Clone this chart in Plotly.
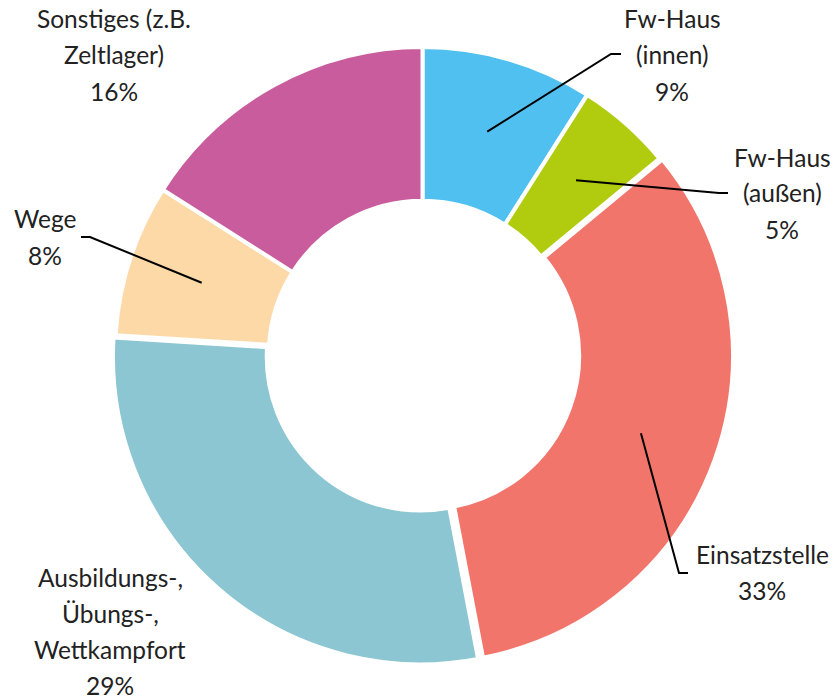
import math

import plotly.graph_objects as go

# data
labels = [
    "Fw-Haus (innen)",
    "Fw-Haus (außen)",
    "Einsatzstelle",
    "Ausbildungs-, Übungs-, Wettkampfort",
    "Wege",
    "Sonstiges (z.B. Zeltlager)",
]
values = [9, 5, 33, 29, 8, 16]
label_lines = [
    ["Fw-Haus", "(innen)"],
    ["Fw-Haus", "(außen)"],
    ["Einsatzstelle"],
    ["Ausbildungs-,", "Übungs-,", "Wettkampfort"],
    ["Wege"],
    ["Sonstiges (z.B.", "Zeltlager)"],
]
colors = ["#4fc0ef", "#b1cb0e", "#f2756c", "#8bc6d2", "#fcd9a7", "#c95c9c"]
pulls = [0, 0, 0.01, 0.01, 0, 0]

W, H = 833, 700
CX, CY, R = 422.5, 354.5, 307.5
LINE_H = 36

# label block centre (px) and leader elbow / end points (None = no leader)
label_pos = [(672, 55), (782, 193), (762, 572), (110, 631), (45, 237), (114, 55)]
leaders = [
    ((611, 54), (621, 54)),
    ((719, 193), (728, 193)),
    ((679, 573), (688, 573)),
    None,
    ((90, 237), (81, 237)),
    None,
]


def px(x):
    return x / W


def py(y):
    return 1 - y / H


max_pull = max(pulls)
half = R * (1 + max_pull)

fig = go.Figure(
    go.Pie(
        labels=labels,
        values=values,
        hole=0.5,
        sort=False,
        direction="clockwise",
        rotation=0,
        pull=pulls,
        marker=dict(colors=colors, line=dict(color="white", width=4)),
        textinfo="none",
        hoverinfo="label+percent",
        showlegend=False,
        domain=dict(
            x=[px(CX - half), px(CX + half)],
            y=[py(CY + half), py(CY - half)],
        ),
    )
)

total = sum(values)
cum = 0
annotations = []
shapes = []
for i, v in enumerate(values):
    mid = (cum + v / 2) / total * 2 * math.pi
    cum += v

    lines = label_lines[i] + [f"{v}%"]
    bx, by = label_pos[i]
    n = len(lines)
    for j, t in enumerate(lines):
        annotations.append(
            dict(
                text=t,
                x=px(bx),
                y=py(by + (j - (n - 1) / 2) * LINE_H),
                xref="paper",
                yref="paper",
                xanchor="center",
                yanchor="middle",
                showarrow=False,
                font=dict(family="Lato", size=24.5, color="#222222"),
            )
        )

    if leaders[i] is not None:
        r0 = 0.755 * R
        sx = CX + r0 * math.sin(mid)
        sy = CY - r0 * math.cos(mid)
        (ex, ey), (tx, ty) = leaders[i]
        path = f"M {px(sx)},{py(sy)} L {px(ex)},{py(ey)} L {px(tx)},{py(ty)}"
        shapes.append(
            dict(
                type="path",
                path=path,
                xref="paper",
                yref="paper",
                line=dict(color="black", width=2),
                layer="above",
            )
        )

fig.update_layout(
    width=W,
    height=H,
    margin=dict(l=0, r=0, t=0, b=0),
    paper_bgcolor="white",
    plot_bgcolor="white",
    annotations=annotations,
    shapes=shapes,
)

# the page body has a default margin; drop it so the figure fills the window
fig.write_html(
    "out.html",
    config={"displayModeBar": False},
    post_script="document.body.style.margin = '0';",
)
